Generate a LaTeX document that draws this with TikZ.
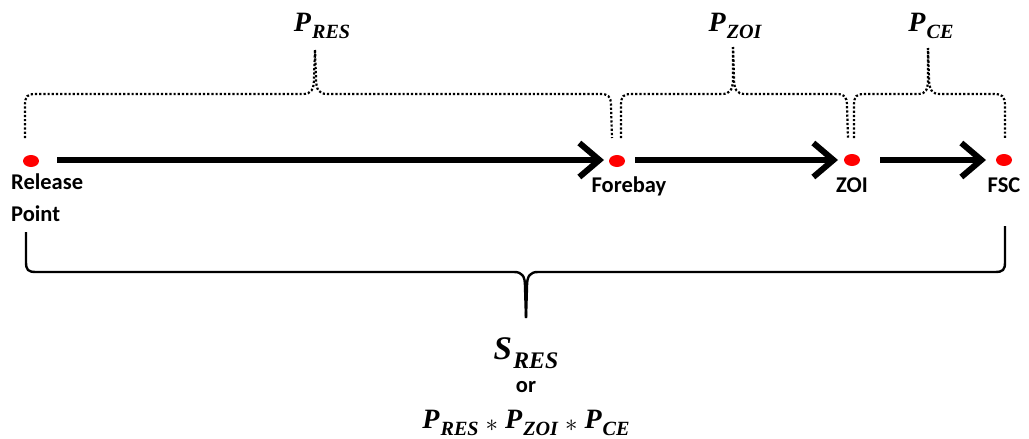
\documentclass[tikz,border=0pt]{standalone}
\usepackage{graphicx}
\usepackage{fontspec}
\setsansfont{Carlito}
\newfontfamily\probfont{Liberation Serif}
\usetikzlibrary{arrows.meta,shapes.geometric}
% a bold italic symbol with a lowered, reduced subscript
\newcommand{\bsub}[2]{{\probfont\bfseries\itshape #1\kern0.04em\raisebox{-0.28em}{\scalebox{0.72}{#2}}}}
\newcommand{\tms}{\kern0.25em\raisebox{-0.12em}{$*$}\kern0.25em}
\tikzset{
  site/.style={ellipse,fill=red,draw=none,minimum width=16pt,minimum height=12pt,inner sep=0pt},
  sitelabel/.style={font=\fontsize{22.5}{26}\selectfont\sffamily\bfseries,inner sep=0pt,anchor=base},
  flow/.style={line width=6pt,-{Straight Barb[length=20pt,width=34pt,line width=6pt]}},
  dotbrace/.style={line width=2.2pt,dash pattern=on 2.2pt off 2pt},
  solidbrace/.style={line width=2.4pt},
  prob/.style={inner sep=0pt,anchor=base,font=\fontsize{28}{30}\selectfont},
}
\begin{document}
\begin{tikzpicture}[x=1pt,y=-1pt]
\useasboundingbox (0,0) rectangle (1029,439);

% stations along the route
\node[site] (rel) at (31,161) {};
\node[site] (fore) at (617,161) {};
\node[site] (zoi) at (852,160) {};
\node[site] (fsc) at (1004,160) {};

\node[sitelabel,anchor=base west] (relA) at (11,189) {Release};
\node[sitelabel,anchor=base west] (relB) at (11,221) {Point};
\node[sitelabel] (foreL) at (629,192) {Forebay};
\node[sitelabel] (zoiL) at (852,192) {ZOI};
\node[sitelabel] (fscL) at (1004,192) {FSC};

% transitions
\coordinate (a1s) at (57,160);   \coordinate (a1e) at (604,160);
\coordinate (a2s) at (635,160);  \coordinate (a2e) at (838,160);
\coordinate (a3s) at (880,160);  \coordinate (a3e) at (986,160);
\draw[flow] (a1s) -- (a1e);
\draw[flow] (a2s) -- (a2e);
\draw[flow] (a3s) -- (a3e);

% dotted braces over each reach
\draw[dotbrace] (25,138) -- (25,106) .. controls (25,96) and (27,94) .. (36,94)
  -- (303,94) .. controls (311,94) and (314,90) .. (314,78) -- (315,50);
\draw[dotbrace] (315,50) -- (316,78) .. controls (316,90) and (319,94) .. (327,94)
  -- (600,94) .. controls (608,94) and (611,96) .. (611,106) -- (612,138);

\draw[dotbrace] (621,138) -- (621,106) .. controls (621,96) and (623,94) .. (632,94)
  -- (722,94) .. controls (730,94) and (733,90) .. (733,78) -- (733,47);
\draw[dotbrace] (733,47) -- (734,78) .. controls (734,90) and (737,94) .. (745,94)
  -- (836,94) .. controls (844,94) and (847,96) .. (847,106) -- (848,138);

\draw[dotbrace] (854,138) -- (854,106) .. controls (854,96) and (856,94) .. (865,94)
  -- (918,94) .. controls (926,94) and (928,90) .. (928,78) -- (928,48);
\draw[dotbrace] (928,48) -- (929,78) .. controls (929,90) and (932,94) .. (940,94)
  -- (994,94) .. controls (1002,94) and (1005,96) .. (1005,106) -- (1005,138);

\node[prob] (pres) at (322,31) {\bsub{P}{RES}};
\node[prob] (pzoi) at (735,31) {\bsub{P}{ZOI}};
\node[prob] (pce) at (931,31) {\bsub{P}{CE}};

% solid brace spanning the whole route
\draw[solidbrace] (26,232) -- (26,262) .. controls (26,270) and (28,272) .. (36,272)
  -- (514,272) .. controls (522,272) and (525,276) .. (525,286) -- (526,318);
\draw[solidbrace] (526,318) -- (527,286) .. controls (527,276) and (530,272) .. (538,272)
  -- (995,272) .. controls (1003,272) and (1005,270) .. (1005,262) -- (1005,226);

\node[prob,font=\fontsize{33}{36}\selectfont] (sres) at (526,359) {\bsub{S}{RES}};
\node[sitelabel] (orL) at (526,392) {or};
\node[prob] (prod) at (526,428) {\bsub{P}{RES}\tms\bsub{P}{ZOI}\tms\bsub{P}{CE}};
\end{tikzpicture}
\end{document}
